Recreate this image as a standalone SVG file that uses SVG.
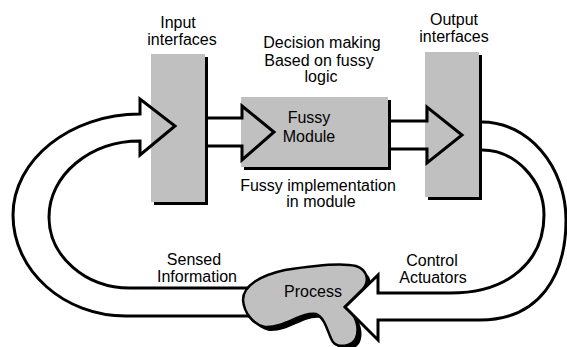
<svg xmlns="http://www.w3.org/2000/svg" width="567" height="347" viewBox="0 0 567 347">
<style>
.box{fill:#c0c0c0}
.sh{fill:#000}
.ln{fill:none;stroke:#000;stroke-width:3;stroke-linejoin:miter}
.wf{fill:#fff;stroke:#000;stroke-width:3;stroke-linejoin:miter}
text{font-family:"Liberation Sans",Arial,sans-serif;font-size:16px;fill:#000;text-anchor:middle}
</style>
<rect width="567" height="347" fill="#fff"/>
<g id="input-interfaces">
<rect class="sh" x="154" y="57" width="54" height="148"/>
<rect class="box" x="151" y="54" width="54" height="148"/>
<text x="178" y="28">Input</text>
<text x="182" y="45">interfaces</text>
</g>
<g id="fussy-module">
<rect class="sh" x="244" y="100" width="147" height="70"/>
<rect class="box" x="241" y="97" width="147" height="70"/>
<text x="309" y="123">Fussy</text>
<text x="309" y="142">Module</text>
<text x="322" y="48">Decision making</text>
<text x="319" y="66">Based on fussy</text>
<text x="321" y="82">logic</text>
<text x="318" y="191">Fussy implementation</text>
<text x="321" y="207">in module</text>
</g>
<g id="output-interfaces">
<rect class="sh" x="428" y="55" width="54" height="145"/>
<rect class="box" x="425" y="52" width="54" height="145"/>
<text x="454" y="25">Output</text>
<text x="454" y="42">interfaces</text>
</g>
<g id="process">
<path class="sh" transform="translate(4,4)" d="M243,300 C243,285 262,275 285,270 C310,266 340,262 356,266 C368,270 370,282 362,290 L346,306 C356,315 360,328 356,338 C352,347 338,348 333,342 C328,335 326,318 316,314 C300,312 285,328 265,327 C252,324 244,312 243,300 Z"/>
<path d="M243,300 C243,285 262,275 285,270 C310,266 340,262 356,266 C368,270 370,282 362,290 L346,306 C356,315 360,328 356,338 C352,347 338,348 333,342 C328,335 326,318 316,314 C300,312 285,328 265,327 C252,324 244,312 243,300 Z" fill="#c0c0c0" stroke="#000" stroke-width="2.5"/>
<text x="313" y="297">Process</text>
</g>
<g id="labels">
<text x="194" y="265">Sensed</text>
<text x="197" y="282">Information</text>
<text x="432" y="266">Control</text>
<text x="433" y="283">Actuators</text>
</g>
<g id="connectors">
<path class="ln" d="M249.5,316 L126,316 C64,316 13,271 13,215 C13,160 70,114 140,114 L140,99 L175,126 L140,155 L140,141 C90,141 49,175 49,217 C49,256 85,288 130,288 L248,288"/>
<path class="wf" d="M482,122 C528,122 566,166 566,220 C566,275 540,320 480,320 L378,320 L378,340 L345,307 L378,275 L378,293 L450,293 C510,293 544,260 544,215 C544,180 515,150 482,150"/>
<path class="ln" d="M208,118 L242,118 L242,106 L274,132 L242,160 L242,146 L208,146"/>
<path class="ln" d="M391,121 L427,121 L427,107 L462,135 L427,163 L427,149 L391,149"/>
</g>
</svg>
